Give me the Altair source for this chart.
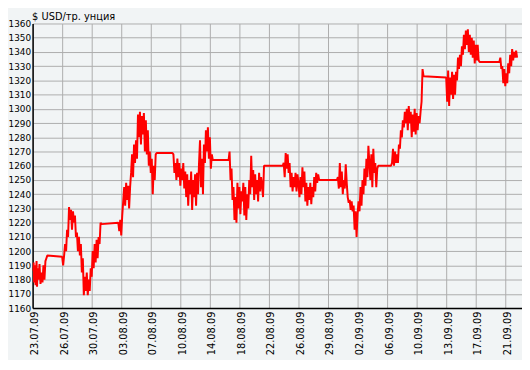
import altair as alt
import pandas as pd

# x position index (1 unit = roughly one column of the original chart), price in USD per troy ounce
x_idx = [
    0, 1, 1.5, 2, 3, 4, 4.5, 5, 6, 7, 8, 9, 10, 11, 12, 13, 14, 15, 30,
    31, 32, 33, 34, 35, 36, 37, 38, 39, 40, 41, 42, 43, 44, 45, 46, 47, 48, 49, 50,
    51, 52, 53, 54, 55, 56, 57, 58, 59, 60, 61, 62, 63, 64, 65, 66, 67, 68, 69, 70, 87,
    88, 89, 90, 91, 92, 93, 94, 95, 96, 97, 98, 99, 100, 101, 102, 103, 104, 105, 106,
    107, 108, 109, 110, 111, 112, 113, 114, 115, 116, 117, 118, 119, 120, 121, 122, 123,
    124, 125, 126, 142,
    143, 144, 145, 146, 147, 148, 149, 150, 151, 152, 153, 154, 155, 156, 157, 158, 159,
    160, 161, 162, 163, 164, 165, 166, 167, 168, 169, 170,
    171, 172, 173, 174, 175, 176, 177, 178, 179, 180, 181, 182, 183, 199,
    200, 201, 202, 203, 204, 205, 206, 207, 208, 209, 210, 211, 212, 213, 214, 215, 216,
    217, 218, 219, 220, 221, 222, 223, 224, 225, 226, 227, 228, 229, 230, 231, 232, 233,
    234, 235, 236, 254,
    255, 256, 257, 258, 259, 260, 261, 262, 263, 264, 265, 266, 267, 268, 269, 270, 271,
    272, 273, 274, 275, 276, 277, 278, 279, 280, 281, 282, 283, 284, 285, 286, 287, 288,
    289, 290, 291, 309,
    310, 311, 312, 313, 314, 315, 316, 317, 318, 319, 320, 321, 322, 323, 324, 325, 326,
    327, 328, 329, 330, 331, 332, 333, 334, 335, 336, 337, 338, 339, 340, 341, 342,
    343, 344, 345, 346, 347, 348, 349, 350, 351, 364,
    365, 366, 367, 368, 369, 370, 371, 372, 373, 374, 375, 376, 377, 378, 379, 380, 381,
    382, 383, 384, 385, 386, 387, 388, 389, 390, 391, 392, 393, 394, 395, 396, 397, 420,
    421, 422, 423, 424, 425, 426, 427, 428, 429, 430, 431, 432, 433, 434, 435, 436, 437,
    438, 439, 440, 441, 442, 443, 444, 445, 446, 447, 448, 449, 450, 451, 452, 453, 454, 474,
    475, 476, 477, 478, 479, 480, 481, 482, 483, 484, 485, 486, 487, 488, 489, 490, 491, 492,
]
price = [
    1186, 1192, 1178, 1190, 1176, 1193, 1175, 1188, 1180, 1191, 1177, 1185, 1178, 1190, 1180, 1193, 1195, 1197, 1196,
    1190, 1197, 1205, 1200, 1215, 1210, 1231, 1222, 1229, 1215, 1228, 1220, 1225, 1210, 1213, 1200, 1210, 1197, 1205, 1185,
    1195, 1169, 1182, 1172, 1185, 1169, 1180, 1172, 1188, 1182, 1200, 1188, 1205, 1192, 1208, 1195, 1210, 1205, 1220, 1219, 1220,
    1214, 1222, 1211, 1225, 1235, 1245, 1232, 1248, 1236, 1246, 1230, 1245, 1255, 1268, 1252, 1275, 1262, 1278, 1265,
    1296, 1280, 1298, 1275, 1295, 1282, 1297, 1270, 1292, 1268, 1285, 1260, 1270, 1255, 1265, 1240, 1260,
    1250, 1268, 1269, 1269,
    1268, 1255, 1262, 1250, 1265, 1252, 1262, 1246, 1258, 1250, 1262, 1244, 1256, 1238, 1254, 1232, 1250,
    1240, 1256, 1229, 1250, 1238, 1254, 1232, 1255, 1240, 1262, 1278,
    1245, 1265, 1240, 1275, 1262, 1285, 1270, 1287, 1265, 1280, 1258, 1268, 1264, 1264,
    1270, 1250, 1258, 1236, 1245, 1222, 1238, 1220, 1248, 1230, 1245, 1226, 1242, 1235, 1248, 1225, 1245,
    1222, 1240, 1230, 1250, 1240, 1267, 1245, 1257, 1236, 1254, 1240, 1250, 1235, 1255, 1242, 1252, 1246,
    1238, 1260, 1260, 1260,
    1262, 1252, 1269, 1258, 1268, 1255, 1262, 1245, 1255, 1242, 1252, 1245, 1255, 1242, 1254, 1248, 1238,
    1252, 1240, 1259, 1245, 1256, 1235, 1248, 1232, 1245, 1236, 1248, 1233, 1245, 1238, 1252, 1242, 1255,
    1248, 1254, 1250, 1250,
    1252, 1244, 1262, 1245, 1256, 1240, 1250, 1244, 1261, 1248, 1238, 1234, 1236, 1229, 1235, 1228, 1232,
    1215, 1228, 1210, 1226, 1235, 1228, 1245, 1232, 1250, 1240, 1258, 1246, 1265, 1252, 1274, 1262,
    1250, 1268, 1245, 1272, 1255, 1262, 1245, 1258, 1260, 1260,
    1262, 1272, 1260, 1270, 1262, 1268, 1262, 1275, 1272, 1285, 1280, 1292, 1287, 1298, 1290, 1300, 1285,
    1302, 1290, 1298, 1280, 1296, 1284, 1300, 1282, 1297, 1285, 1295, 1290, 1298, 1305, 1328, 1323, 1322,
    1305, 1327, 1302, 1322, 1310, 1326, 1307, 1324, 1310, 1326, 1320, 1336, 1328, 1338, 1330, 1344, 1338,
    1352, 1342, 1355, 1345, 1356, 1340, 1352, 1338, 1350, 1336, 1348, 1332, 1345, 1334, 1345, 1334, 1333, 1333,
    1336, 1328, 1330, 1318, 1328, 1316, 1325, 1318, 1332, 1325, 1338, 1330, 1342, 1334, 1340, 1336, 1341, 1336,
]

tick_labels = ["23.07.09", "26.07.09", "30.07.09", "03.08.09", "07.08.09", "10.08.09",
               "14.08.09", "18.08.09", "22.08.09", "26.08.09", "29.08.09", "02.09.09",
               "06.09.09", "10.09.09", "13.09.09", "17.09.09", "21.09.09"]
tick_positions = [30 * i for i in range(len(tick_labels))]
y_ticks = list(range(1160, 1361, 10))

df = pd.DataFrame({"x": x_idx, "price": price})

label_expr = "[" + ",".join("'" + s + "'" for s in tick_labels) + "][round(datum.value / 30)]"

BG = "#f1f4f5"
GRID = "#adadad"
FONT = "DejaVu Sans"

chart = alt.Chart(df).mark_line(
    color="#ff0000", strokeWidth=2, strokeJoin="bevel", clip=True
).encode(
    x=alt.X("x:Q",
            scale=alt.Scale(domain=[0, 497], nice=False, zero=False),
            axis=alt.Axis(values=tick_positions, labelExpr=label_expr, labelAngle=270,
                          labelAlign="right", labelBaseline="middle", labelPadding=3,
                          labelOffset=2,
                          ticks=False, grid=True, gridColor=GRID, gridOpacity=1,
                          domainColor="#000000", domainWidth=1.5,
                          labelFont=FONT, labelFontSize=10, labelColor="#000000",
                          title=None, labelOverlap=False)),
    y=alt.Y("price:Q",
            scale=alt.Scale(domain=[1160, 1360], nice=False, zero=False),
            axis=alt.Axis(values=y_ticks, format="d", ticks=False, grid=True,
                          gridColor=GRID, gridOpacity=1,
                          domainColor="#000000", domainWidth=1.5, labelPadding=2,
                          labelFont=FONT, labelFontSize=9, labelColor="#000000",
                          labelOverlap=False,
                          title="$ USD/тр. унция", titleAngle=0, titleAlign="left",
                          titleBaseline="alphabetic", titleX=-1, titleY=-4,
                          titleFont=FONT, titleFontSize=10, titleFontWeight="normal",
                          titleColor="#000000")),
).properties(
    width=497, height=289,
    autosize=alt.AutoSizeParams(type="none"),
    padding={"left": 25, "top": 13, "right": 0, "bottom": 50},
    background=BG,
).configure_view(stroke=None, fill=BG)

chart.save("out.html", embed_options={"renderer": "svg", "actions": False})
